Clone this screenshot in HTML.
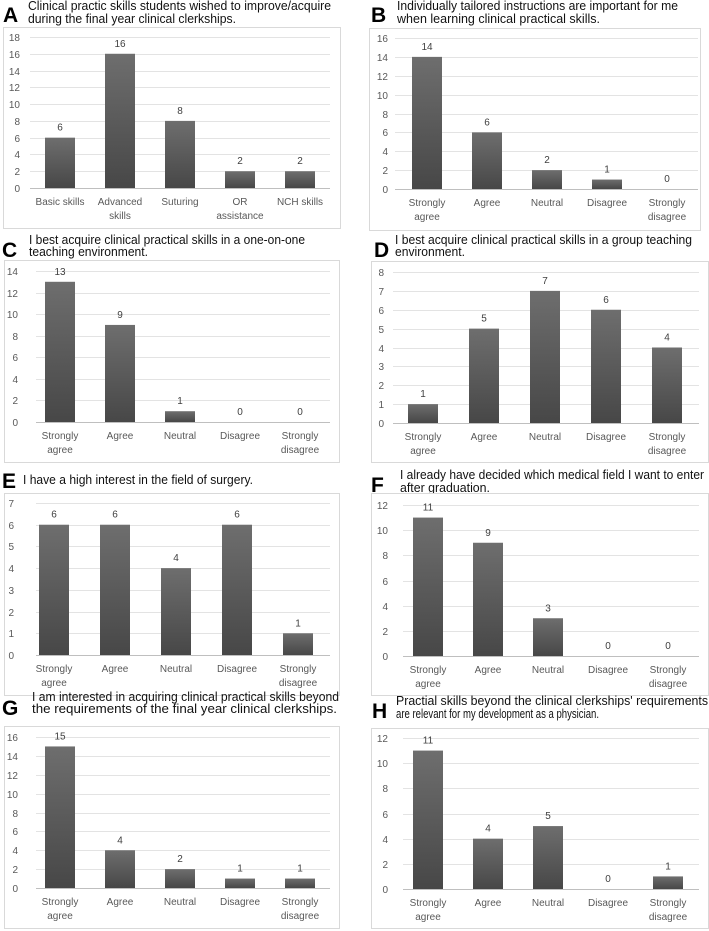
<!DOCTYPE html>
<html><head><meta charset="utf-8">
<style>
html,body{margin:0;padding:0;background:#fff;}
svg{display:block;font-family:"Liberation Sans",Arial,sans-serif;}
.t{font-size:12.5px;fill:#111;}
.L{font-size:21px;font-weight:bold;fill:#000;}
.yl{font-size:10px;fill:#595959;text-anchor:end;}
.cl{font-size:10px;fill:#595959;text-anchor:middle;}
.vl{font-size:10px;fill:#404040;text-anchor:middle;}
</style></head>
<body>
<svg id="fig" width="709" height="931" viewBox="0 0 709 931">
<defs><linearGradient id="bg" x1="0" y1="0" x2="0" y2="1"><stop offset="0" stop-color="#6e6e6e"/><stop offset="1" stop-color="#474747"/></linearGradient></defs>
</svg>
<script>
const likert = ["Strongly|agree","Agree","Neutral","Disagree","Strongly|disagree"];
const catsA = ["Basic skills","Advanced|skills","Suturing","OR|assistance","NCH skills"];
const valsA = [6,16,8,2,2];
const valsB = [14,6,2,1,0];
const valsC = [13,9,1,0,0];
const valsD = [1,5,7,6,4];
const valsE = [6,6,4,6,1];
const valsF = [11,9,3,0,0];
const valsG = [15,4,2,1,1];
const valsH = [11,4,5,0,1];
const maxA=18, maxB=16, maxC=14, maxD=8, maxE=7, maxF=12, maxG=16, maxH=12;

const NS="http://www.w3.org/2000/svg";
const svg=document.getElementById('fig');
function mk(tag,attrs,parent,txt){const e=document.createElementNS(NS,tag);for(const k in attrs)e.setAttribute(k,attrs[k]);if(txt!==undefined)e.textContent=txt;(parent||svg).appendChild(e);return e;}

function panel(id,letter,lx,ly,titles,cats,vals,max,step,g){
  const grp=mk('g',{});
  
  
  const lt=mk('text',{x:lx,y:ly,class:'L'},grp,letter);
  
  
  titles.forEach(t=>{
    const te=mk('text',{x:t[0],y:t[1],class:'t',textLength:t[2],lengthAdjust:'spacingAndGlyphs'},grp,t[3]);
    
    
  });
  const box=mk('rect',{x:g.box[0]+0.5,y:g.box[1]+0.5,width:g.box[2]-g.box[0],height:g.box[3]-g.box[1],fill:'#fff',stroke:'#d9d9d9'},grp);
  
  
  const yS=v=>g.base-(g.base-g.top)*v/max;
  const xS=i=>g.c0+g.dx*i;
  for(let v=0;v<=max;v+=step){
    const y=Math.round(yS(v))+0.5;
    const gl=mk('line',{x1:g.gx0,x2:g.gx1,y1:y,y2:y,stroke:v===0?'#bfbfbf':'#e3e3e3','stroke-width':1},grp);
    
    
    const tl=mk('text',{x:g.yx,y:y+3.5,class:'yl'},grp,String(v));
    
    
  }
  vals.forEach((v,i)=>{
    const cx=xS(i), w=30;
    if(v>0){
      const b=mk('rect',{x:cx-w/2,y:yS(v),width:w,height:g.base-yS(v),fill:'url(#bg)'},grp);
      
      
    }
    const vl=mk('text',{x:cx,y:yS(v)-7,class:'vl'},grp,String(v));
    
    
    cats[i].split('|').forEach((s,k)=>{
      const cl=mk('text',{x:cx,y:g.base+17+k*14,class:'cl'},grp,s);
      
      
    });
  });
}

panel('a','A',3,22,[[28,10,303,'Clinical practic skills students wished to improve/acquire'],[28,23,208,'during the final year clinical clerkships.']],
  catsA,valsA,maxA,2,{box:[3,27,340,228],base:188,top:37,c0:60,dx:60,gx0:30,gx1:330,yx:20});
panel('b','B',371,22,[[397,10,281,'Individually tailored instructions are important for me'],[397,23,203,'when learning clinical practical skills.']],
  likert,valsB,maxB,2,{box:[369,28,700,230],base:189,top:38,c0:427,dx:60,gx0:395,gx1:698,yx:388});
panel('c','C',2,257,[[29,244,276,'I best acquire clinical practical skills in a one-on-one'],[29,256,119,'teaching environment.']],
  likert,valsC,maxC,2,{box:[4,260,339,462],base:422,top:271,c0:60,dx:60,gx0:36,gx1:330,yx:18});
panel('d','D',374,257,[[395,244,297,'I best acquire clinical practical skills in a group teaching'],[395,256,70,'environment.']],
  likert,valsD,maxD,1,{box:[371,261,708,462],base:423,top:272,c0:423,dx:61,gx0:393,gx1:699,yx:384});
panel('e','E',2,488,[[23,484,230,'I have a high interest in the field of surgery.']],
  likert,valsE,maxE,1,{box:[4,493,339,695],base:655,top:503,c0:54,dx:61,gx0:36,gx1:330,yx:14});
panel('f','F',371,492,[[400,479,304,'I already have decided which medical field I want to enter'],[400,492,90,'after graduation.']],
  likert,valsF,maxF,2,{box:[371,493,708,695],base:656,top:505,c0:428,dx:60,gx0:403,gx1:699,yx:388});
panel('g','G',2,715,[[32,701,307,'I am interested in acquiring clinical practical skills beyond'],[32,713,305,'the requirements of the final year clinical clerkships.']],
  likert,valsG,maxG,2,{box:[4,726,339,928],base:888,top:737,c0:60,dx:60,gx0:36,gx1:330,yx:18});
panel('h','H',372,718,[[396,705,312,"Practial skills beyond the clinical clerkships' requirements"],[396,718,203,'are relevant for my development as a physician.']],
  likert,valsH,maxH,2,{box:[371,728,708,928],base:889,top:738,c0:428,dx:60,gx0:403,gx1:699,yx:388});
</script>
</body></html>
